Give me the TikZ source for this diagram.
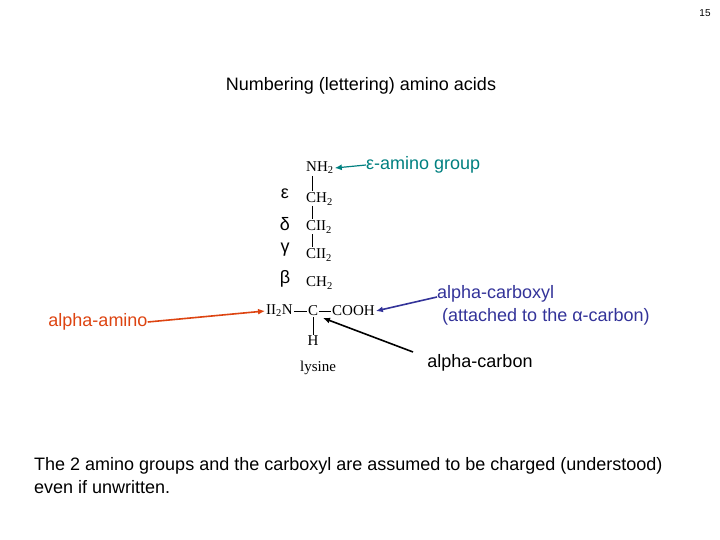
\documentclass[tikz,border=0pt]{standalone}
\usepackage{fontspec}
\usetikzlibrary{arrows.meta}
\setmainfont{Liberation Sans}
\newfontfamily\chem{Liberation Serif}
\begin{document}
\begin{tikzpicture}[x=1pt,y=-1pt,
  lab/.style={font=\fontsize{18}{21}\selectfont, inner sep=0pt},
  ch/.style={font=\chem\fontsize{15}{17}\selectfont, inner sep=1pt},
  gr/.style={font=\fontsize{18}{21}\selectfont, inner sep=0pt},
  bond/.style={line width=0.7pt},
  arr/.style={line width=1.6pt,-{Latex[length=7pt,width=6pt]}}]
\useasboundingbox (0,0) rectangle (720,540);
\definecolor{teal1}{RGB}{0,128,128}
\definecolor{navy1}{RGB}{51,51,153}
\definecolor{red1}{RGB}{221,68,17}
\node[font=\fontsize{10}{12}\selectfont] (pg) at (705,13) {15};
\node[lab] (title) at (361,86) {Numbering (lettering) amino acids};
\node[ch,anchor=west] (nh2) at (305,168) {NH\textsubscript{2}};
\node[ch,anchor=west] (c1) at (305,199) {CH\textsubscript{2}};
\node[ch,anchor=west] (c2) at (305,227) {CII\textsubscript{2}};
\node[ch,anchor=west] (c3) at (305,255) {CII\textsubscript{2}};
\node[ch,anchor=west] (c4) at (305,283) {CH\textsubscript{2}};
\node[ch,anchor=east] (n) at (294,311) {II\textsubscript{2}N};
\node[ch] (ca) at (313,311) {C};
\node[ch,anchor=west] (cooh) at (331,311) {COOH};
\node[ch] (h) at (313,341) {H};
\node[ch] (lys) at (318,368) {lysine};
\node[gr] (e) at (285,194) {ε};
\node[gr] (d) at (285,224) {δ};
\node[gr] (g) at (285,250) {γ};
\node[gr] (b) at (285,279) {β};
\draw[bond] (312,176) -- (312,191) (312,206) -- (312,219) (312,234) -- (312,247);
\draw[bond] (n) -- (ca) (ca) -- (cooh) (ca) -- (h);
\node[lab,anchor=west,text=teal1] (eps) at (366,165) {ε-amino group};
\draw[arr,teal1,line width=1.2pt] (eps.west) -- (nh2.east);
\node[lab,text=red1] (aa) at (98,322) {alpha-amino};
\draw[arr,red1] (aa.east) -- (n.west);
\node[lab,text=navy1,align=left,anchor=west] (ac) at (437,305) {alpha-carboxyl\\[2pt]\ (attached to the α-carbon)};
\draw[arr,navy1] (437,297) -- (cooh.east);
\node[lab] (acarb) at (480,363) {alpha-carbon};
\draw[arr] (413,352) -- (323,318);
\node[lab,anchor=west,align=left] (bt) at (34,476) {The 2 amino groups and the carboxyl are assumed to be charged (understood)\\[2pt]even if unwritten.};
\end{tikzpicture}
\end{document}
